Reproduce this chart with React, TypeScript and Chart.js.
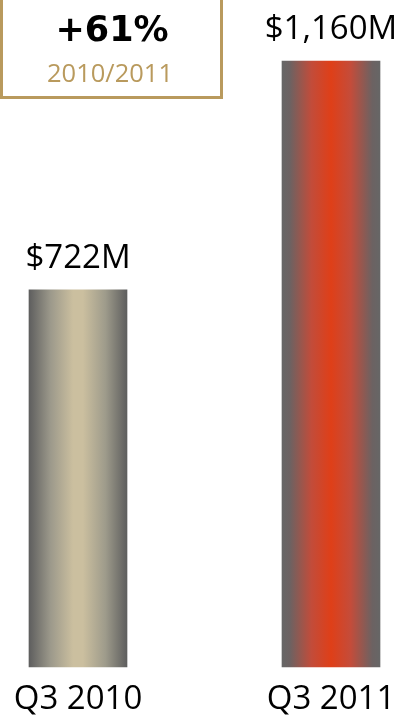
import React, { useEffect, useRef } from "react";
import { Chart, registerables } from "chart.js";

Chart.register(...registerables);

// ---- data ----
const categories: string[] = ["Q3 2010", "Q3 2011"];
const revenue: number[] = [722, 1160];
const valueLabels: string[] = ["$722M", "$1,160M"];
const changeLabel = "+61%";
const changePeriod = "2010/2011";

const GOLD = "#b99a5d";
const LABEL_FONT = '"Open Sans", "Noto Sans", sans-serif';

const gradientStops: [number, string][][] = [
  [
    [0, "#5e5e5e"],
    [0.22, "#9c998b"],
    [0.45, "#cbbf9f"],
    [0.55, "#cbbf9f"],
    [0.78, "#9e9b8b"],
    [1, "#5e5e5e"],
  ],
  [
    [0, "#666666"],
    [0.08, "#6c6262"],
    [0.3, "#c24c3a"],
    [0.5, "#df3f18"],
    [0.7, "#c44c3a"],
    [0.92, "#6c6262"],
    [1, "#666666"],
  ],
];

const BAR_W = 98;

const valueLabelPlugin = {
  id: "valueLabels",
  afterDatasetsDraw(chart: any) {
    const ctx = chart.ctx;
    const meta = chart.getDatasetMeta(0);
    ctx.save();
    ctx.font = `33px ${LABEL_FONT}`;
    ctx.fillStyle = "#000";
    ctx.textAlign = "center";
    ctx.textBaseline = "alphabetic";
    meta.data.forEach((el: any, i: number) => {
      ctx.fillText(valueLabels[i], el.x, el.y - 22);
    });
    ctx.restore();
  },
};

const boxPlugin = {
  id: "changeBox",
  afterDraw(chart: any) {
    const ctx = chart.ctx;
    ctx.save();
    ctx.strokeStyle = GOLD;
    ctx.lineWidth = 3;
    ctx.strokeRect(1.5, -10, 220, 107.5);
    ctx.textAlign = "center";
    ctx.textBaseline = "alphabetic";
    ctx.fillStyle = "#000";
    ctx.font = 'bold 35px "DejaVu Sans", sans-serif';
    ctx.fillText(changeLabel, 112, 41);
    ctx.fillStyle = GOLD;
    ctx.font = `25.5px ${LABEL_FONT}`;
    ctx.fillText(changePeriod, 110, 81.5);
    ctx.restore();
  },
};

export default function App() {
  const ref = useRef<HTMLCanvasElement | null>(null);

  useEffect(() => {
    document.body.style.margin = "0";
    const canvas = ref.current;
    if (!canvas) return;
    const chart = new Chart(canvas, {
      type: "bar",
      data: {
        labels: categories,
        datasets: [
          {
            data: revenue,
            clip: false as any,
            barThickness: BAR_W,
            borderWidth: 0,
            backgroundColor: (c: any) => {
              const ch = c.chart;
              const xs = ch.scales && ch.scales.x;
              if (!xs || c.dataIndex === undefined) return "#888";
              const cx = xs.getPixelForValue(c.dataIndex);
              if (!isFinite(cx)) return "#888";
              const g = ch.ctx.createLinearGradient(cx - BAR_W / 2, 0, cx + BAR_W / 2, 0);
              gradientStops[c.dataIndex % gradientStops.length].forEach(([o, col]) =>
                g.addColorStop(o, col)
              );
              return g;
            },
          },
        ],
      },
      options: {
        animation: false,
        responsive: false,
        devicePixelRatio: 1,
        layout: { padding: { left: 78, right: 72, top: 61, bottom: 0 } },
        plugins: {
          legend: { display: false },
          tooltip: { enabled: false },
        },
        scales: {
          x: {
            offset: false,
            grid: { display: false, drawTicks: false },
            border: { display: false },
            ticks: {
              color: "#000",
              padding: 13,
              font: { family: LABEL_FONT, size: 33 },
            },
            afterFit: (scale: any) => {
              scale.height = 52;
              scale.paddingLeft = 0;
              scale.paddingRight = 0;
            },
          },
          y: {
            display: false,
            min: 0,
            max: 1160,
          },
        },
      },
      plugins: [valueLabelPlugin, boxPlugin],
    });
    let alive = true;
    if ((document as any).fonts && (document as any).fonts.load) {
      Promise.all([
        (document as any).fonts.load(`33px ${LABEL_FONT}`),
        (document as any).fonts.load('bold 35px "DejaVu Sans"'),
      ]).then(() => {
        if (alive) chart.update();
      });
    }
    return () => {
      alive = false;
      chart.destroy();
    };
  }, []);

  return (
    <div style={{ position: "fixed", left: 0, top: 0, width: 403, height: 719, background: "#fff" }}>
      <canvas ref={ref} width={403} height={719} style={{ display: "block" }} />
    </div>
  );
}
